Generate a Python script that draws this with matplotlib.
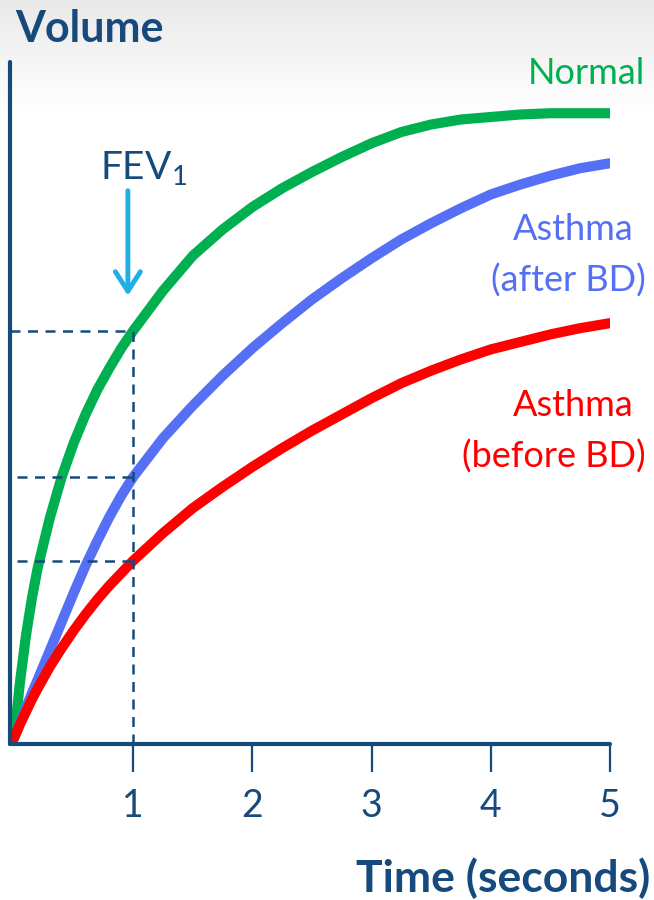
import matplotlib
matplotlib.use("Agg")
import matplotlib.pyplot as plt
import numpy as np

plt.rcParams['font.family'] = ['Lato', 'DejaVu Sans']

# time axis (seconds) and volume readings for each curve
time_s = [0, 0.05, 0.1, 0.15, 0.2, 0.3, 0.4, 0.5, 0.6, 0.7, 0.8, 0.9, 1.0,
          1.25, 1.5, 1.75, 2.0, 2.25, 2.5, 2.75, 3.0, 3.25, 3.5, 3.75, 4.0,
          4.25, 4.5, 4.75, 5.0]
normal = [0, 0.45, 0.82, 1.12, 1.37, 1.76, 2.09, 2.36, 2.59, 2.79, 2.96, 3.12, 3.26,
          3.58, 3.86, 4.07, 4.25, 4.40, 4.53, 4.65, 4.76, 4.85, 4.91, 4.95, 4.97,
          4.99, 5.0, 5.0, 5.0]
after_bd = [0, 0.12, 0.24, 0.36, 0.47, 0.70, 0.93, 1.16, 1.38, 1.58, 1.77, 1.94, 2.09,
            2.40, 2.66, 2.90, 3.12, 3.32, 3.51, 3.68, 3.84, 3.99, 4.12, 4.24, 4.35,
            4.43, 4.50, 4.56, 4.60]
before_bd = [0, 0.11, 0.21, 0.31, 0.40, 0.57, 0.72, 0.86, 0.99, 1.11, 1.22, 1.32, 1.42,
             1.64, 1.84, 2.01, 2.17, 2.32, 2.46, 2.59, 2.72, 2.84, 2.94, 3.03, 3.11,
             3.17, 3.23, 3.28, 3.32]
tick_vals = [1, 2, 3, 4, 5]
fev_time = 1.0

DARK = '#174A7C'
GREEN = '#00B050'
BLUE = '#5570F5'
RED = '#FF0000'
ARROW = '#1FAEE5'

W, H = 654, 900
fig = plt.figure(figsize=(W / 100, H / 100), dpi=100)

# soft grey band at the top fading to white
bg = fig.add_axes([0, 0, 1, 1], zorder=-5)
rows = np.arange(H)
shade = np.clip(0.915 + (1 - 0.915) * rows / 110, 0, 1)
grad = np.repeat(shade[:, None], 2, axis=1)
bg.imshow(np.dstack([grad, grad, grad]), aspect='auto', extent=[0, 1, 0, 1],
          origin='upper')
bg.axis('off')

def fx(px):
    return px / W

def fy(py):
    return 1 - py / H

ax = fig.add_axes([fx(10), fy(744), (610 - 10) / W, (744 - 62) / H])
ax.set_facecolor('none')
ax.set_xlim(-0.034, 5.0)
ax.set_ylim(-0.048, 5.41)

for series, col in ((normal, GREEN), (after_bd, BLUE), (before_bd, RED)):
    ax.plot(time_s, series, color=col, lw=7.3, solid_capstyle='round',
            solid_joinstyle='round')

# FEV1 guide lines
i1 = time_s.index(fev_time)
starts = (-0.03, 0.025, 0.025)
for series, x0 in zip((normal, after_bd, before_bd), starts):
    ax.plot([x0, fev_time], [series[i1], series[i1]], color=DARK, lw=1.8,
            dashes=(4, 3), zorder=5)
ax.plot([fev_time, fev_time], [-0.048, normal[i1]], color=DARK, lw=1.8,
        dashes=(4, 3), zorder=5)

ax.annotate('', xy=(0.955, 3.54), xytext=(0.955, 4.38),
            arrowprops=dict(arrowstyle='->, head_length=0.7, head_width=0.45',
                            color=ARROW, lw=3.5, shrinkA=0, shrinkB=0,
                            mutation_scale=20))

for s in ('top', 'right'):
    ax.spines[s].set_visible(False)
for s in ('left', 'bottom'):
    ax.spines[s].set_color(DARK)
    ax.spines[s].set_linewidth(3)
    ax.spines[s].set_capstyle('round')

ax.set_xticks(tick_vals)
ax.set_xticklabels([str(v) for v in tick_vals], fontsize=27, color=DARK)
ax.tick_params(axis='x', direction='out', length=20, width=1.6, color=DARK, pad=12)
ax.set_yticks([])

fig.text(fx(15), fy(42), 'Volume', fontsize=31, fontweight='bold', color=DARK,
         ha='left', va='baseline')
fig.text(fx(650), fy(892), 'Time (seconds)', fontsize=32, fontweight='bold',
         color=DARK, ha='right', va='baseline')
fig.text(fx(100), fy(180), r'FEV$_\mathregular{1}$', fontsize=28, color=DARK,
         ha='left', va='baseline')

fig.text(fx(645), fy(84), 'Normal', fontsize=26, color=GREEN, ha='right', va='baseline')
fig.text(fx(573), fy(240), 'Asthma', fontsize=26, color=BLUE, ha='center', va='baseline')
fig.text(fx(646), fy(292), '(after BD)', fontsize=26, color=BLUE, ha='right', va='baseline')
fig.text(fx(573), fy(416), 'Asthma', fontsize=26, color=RED, ha='center', va='baseline')
fig.text(fx(646), fy(468), '(before BD)', fontsize=26, color=RED, ha='right', va='baseline')

fig.savefig('out.png', dpi=100)
